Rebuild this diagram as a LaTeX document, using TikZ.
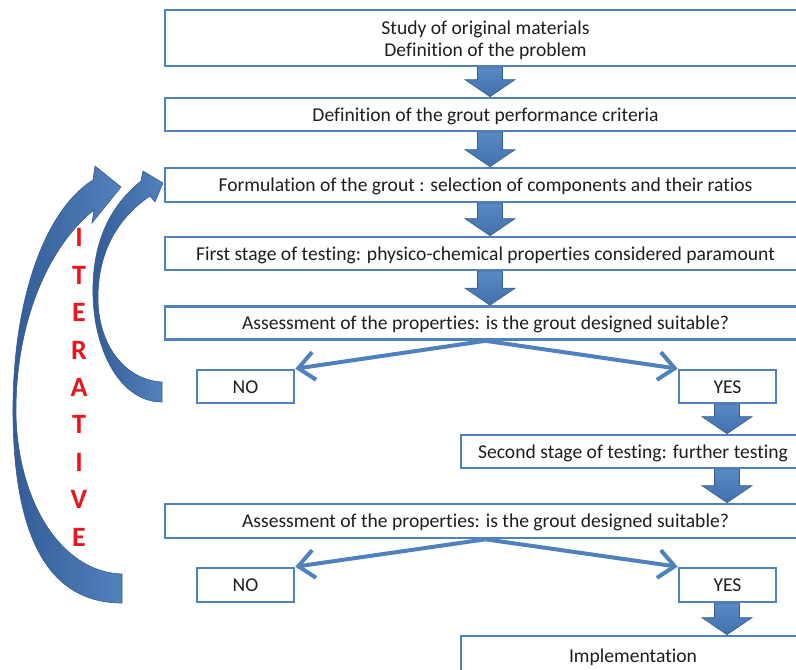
\documentclass[tikz,border=0pt]{standalone}
\usepackage{fontspec}
\setmainfont{Carlito}[Ligatures=NoCommon]
\usetikzlibrary{arrows.meta,calc,backgrounds}
\definecolor{boxblue}{RGB}{79,129,189}
\definecolor{arrtop}{RGB}{88,138,198}
\definecolor{arrbot}{RGB}{66,112,172}
\definecolor{arrdark}{RGB}{56,93,138}
\definecolor{curvedark}{RGB}{52,92,150}
\definecolor{curvelight}{RGB}{82,130,190}
\definecolor{itred}{RGB}{235,20,30}
\definecolor{txt}{RGB}{30,30,30}
\newcommand\blockdown[3]{%
  \path[blockstyle] let \p1=(#1), \p2=(#2) in
   (#3-12.5pt,\y1) -- (#3+12.5pt,\y1) -- (#3+12.5pt,\y2+17pt) -- (#3+25pt,\y2+17pt)
   -- (#3,\y2) -- (#3-25pt,\y2+17pt) -- (#3-12.5pt,\y2+17pt) -- cycle;}
\begin{document}
\begin{tikzpicture}[x=1pt,y=-1pt,
  txtstyle/.style={text=txt, font=\fontsize{19.6}{22}\selectfont, align=center},
  box/.style={draw=boxblue, line width=2.6pt, fill=white, inner sep=0pt, txtstyle,
    text height=14.4pt, text depth=1pt},
  wide/.style={box, minimum width=641pt},
  small/.style={box, minimum width=97pt, minimum height=33pt},
  blockstyle/.style={top color=arrtop, bottom color=arrbot, draw=arrdark, line width=0.6pt},
  branch/.style={draw=boxblue, line width=4pt, -{Straight Barb[length=16pt,width=28pt]}},
  curvestyle/.style={left color=curvedark, right color=curvelight, draw=arrdark, line width=0.6pt}]
\useasboundingbox (0,0) rectangle (796,670);
\clip (0,0) rectangle (796,670);
% main boxes
\node[wide, minimum height=56pt] (b1) at (485.5,38) {};
\node[txtstyle] (t1) at (485.5,40) {Study of original materials\\Definition of the problem};
\node[wide, minimum height=33pt] (b2) at (485.5,114.5) {Definition of the grout performance criteria};
\node[wide, minimum height=34pt] (b3) at (485.5,185) {Formulation of the grout : selection of components and their ratios};
\node[wide, minimum height=33pt] (b4) at (485.5,253.5) {First stage of testing: physico-chemical properties considered paramount};
\node[wide, minimum height=33pt] (b5) at (485.5,323) {Assessment of the properties: is the grout designed suitable?};
\node[small] (no1) at (245.5,386.5) {NO};
\node[small] (yes1) at (727.5,386.5) {YES};
\node[box, minimum width=344pt, minimum height=33pt] (b6) at (633,451.5) {Second stage of testing: further testing};
\node[wide, minimum height=34pt] (b7) at (485.5,521) {Assessment of the properties: is the grout designed suitable?};
\node[small, minimum height=34pt] (no2) at (245.5,585) {NO};
\node[small, minimum height=34pt] (yes2) at (727.5,585) {YES};
\node[box, minimum width=344pt, minimum height=60pt] (b8) at (633,666) {};
\node[txtstyle] (t8) at (633,657) {Implementation};
% block arrows
\begin{scope}[on background layer]
\blockdown{b1.south}{b2.north}{490pt}
\blockdown{b2.south}{b3.north}{490pt}
\blockdown{b3.south}{b4.north}{490pt}
\blockdown{b4.south}{b5.north}{490pt}
\blockdown{yes1.south}{b6.north}{727pt}
\blockdown{b6.south}{b7.north}{727pt}
\blockdown{yes2.south}{b8.north}{727pt}
\end{scope}
% branches
\draw[branch] (b5.south) -- (no1.north east);
\draw[branch] (b5.south) -- (yes1.north west);
\draw[branch] (b7.south) -- (no2.north east);
\draw[branch] (b7.south) -- (yes2.north west);
% outer curved arrow
\path[curvestyle] (93,180) -- (95,166) -- (121,187) -- (92,223) -- (94,210)
  .. controls (50,245) and (15,320) .. (16,415)
  .. controls (18,500) and (60,572) .. (122,574)
  -- (122,603)
  .. controls (50,603) and (14,540) .. (13,415)
  .. controls (12,300) and (45,210) .. (93,180) -- cycle;
% inner curved arrow
\path[curvestyle] (141,181) -- (143,171) -- (163,183) -- (155,202) -- (150,196)
  .. controls (115,220) and (98,255) .. (98,298)
  .. controls (98,345) and (125,380) .. (162,382)
  -- (162,402)
  .. controls (120,402) and (94,350) .. (93,295)
  .. controls (92,250) and (105,210) .. (141,181) -- cycle;
% ITERATIVE
\node[font=\bfseries\fontsize{28}{37.4}\selectfont, text=itred, align=center, inner sep=0pt] (it) at (79,387.5) {I\\T\\E\\R\\A\\T\\I\\V\\E};
\end{tikzpicture}
\end{document}
